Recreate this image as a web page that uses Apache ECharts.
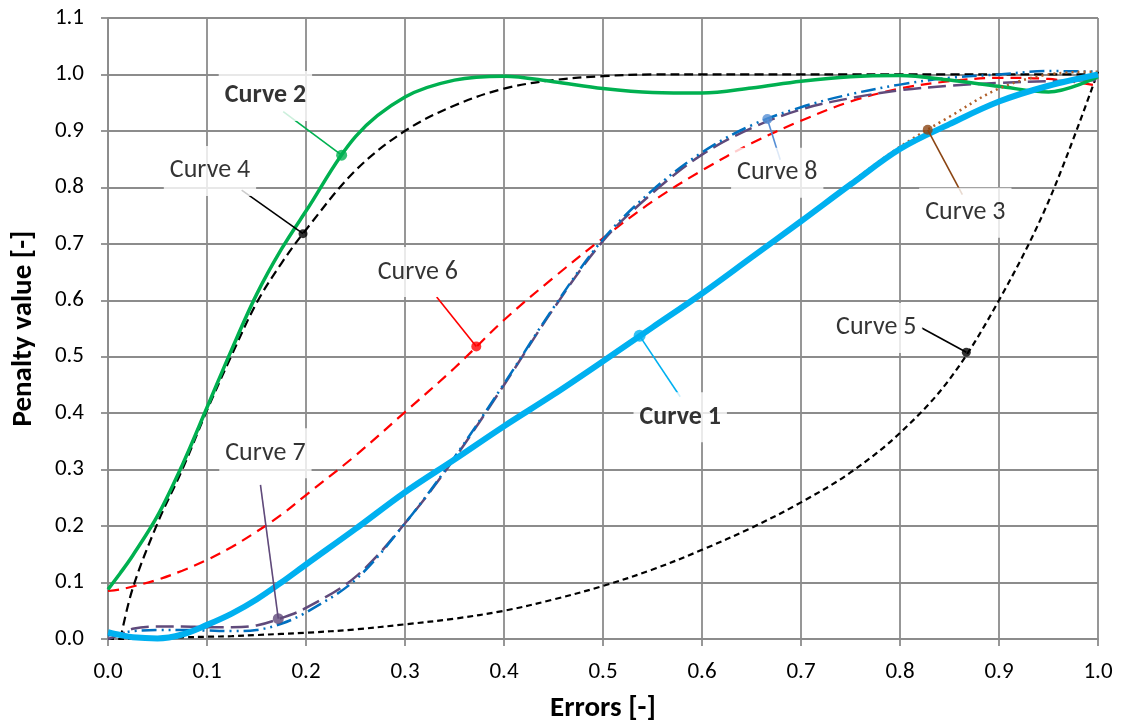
<!DOCTYPE html>
<html>
<head>
<meta charset="utf-8">
<script src="https://cdn.jsdelivr.net/npm/echarts@6/dist/echarts.min.js"></script>
<style>html,body{margin:0;padding:0;background:#fff}#c{width:1123px;height:726px}</style>
</head>
<body>
<div id="c"></div>
<script>
// shared x grid
const X = [0, 0.0125, 0.025, 0.05, 0.075, 0.1, 0.125, 0.15, 0.175, 0.2, 0.25, 0.3, 0.35, 0.4, 0.45, 0.5, 0.55, 0.6, 0.65, 0.7, 0.75, 0.8, 0.85, 0.9, 0.95, 1.0];
const curve1 = [0.012, 0.007, 0.003, 0.001, 0.008, 0.025, 0.045, 0.07, 0.1, 0.132, 0.195, 0.26, 0.318, 0.377, 0.433, 0.492, 0.552, 0.612, 0.676, 0.74, 0.805, 0.868, 0.912, 0.952, 0.98, 1.0];
const curve2 = [0.088, 0.117, 0.148, 0.218, 0.308, 0.41, 0.513, 0.61, 0.69, 0.758, 0.89, 0.96, 0.99, 0.997, 0.987, 0.975, 0.968, 0.967, 0.976, 0.988, 0.996, 0.998, 0.99, 0.979, 0.969, 0.996];
const curve3 = [0.012, 0.007, 0.003, 0.001, 0.008, 0.025, 0.045, 0.07, 0.1, 0.132, 0.195, 0.26, 0.318, 0.377, 0.433, 0.492, 0.552, 0.612, 0.676, 0.74, 0.808, 0.872, 0.925, 0.975, 1.0, 1.005];
const curve4 = [null, 0.0, 0.09, 0.205, 0.3, 0.405, 0.503, 0.595, 0.665, 0.725, 0.83, 0.9, 0.945, 0.975, 0.99, 0.997, 1.0, 1.0, 1.0, 1.0, 1.0, 1.0, 1.0, 1.0, 1.0, 1.0];
const curve5 = [0.0, 0.0, 0.001, 0.002, 0.003, 0.004, 0.005, 0.007, 0.009, 0.011, 0.017, 0.026, 0.036, 0.05, 0.07, 0.094, 0.123, 0.158, 0.197, 0.242, 0.295, 0.365, 0.46, 0.6, 0.775, 1.005];
const curve6 = [0.085, 0.088, 0.093, 0.105, 0.121, 0.14, 0.163, 0.19, 0.22, 0.255, 0.325, 0.402, 0.48, 0.565, 0.64, 0.71, 0.775, 0.83, 0.878, 0.918, 0.952, 0.975, 0.988, 0.994, 0.992, 0.98];
const curve7 = [0.0, 0.008, 0.018, 0.022, 0.022, 0.021, 0.021, 0.024, 0.037, 0.055, 0.11, 0.205, 0.32, 0.45, 0.585, 0.705, 0.79, 0.858, 0.905, 0.938, 0.958, 0.972, 0.98, 0.985, 0.988, 0.99];
const curve8 = [0.006, 0.01, 0.014, 0.016, 0.016, 0.015, 0.014, 0.016, 0.027, 0.047, 0.105, 0.205, 0.322, 0.452, 0.587, 0.708, 0.795, 0.862, 0.91, 0.942, 0.965, 0.982, 0.994, 1.0, 1.006, 1.005];

// annotations
const annNames = ['Curve 1', 'Curve 2', 'Curve 3', 'Curve 4', 'Curve 5', 'Curve 6', 'Curve 7', 'Curve 8'];
const annMarkers = [[0.537, 0.537], [0.236, 0.857], [0.828, 0.902], [0.197, 0.718], [0.867, 0.508], [0.372, 0.518], [0.172, 0.036], [0.666, 0.921]];
const annLineEnds = [[0.578, 0.429], [0.177, 0.934], [0.863, 0.787], [0.135, 0.795], [0.822, 0.551], [0.332, 0.606], [0.154, 0.273], [0.679, 0.849]];
const annTextPos = [[0.578, 0.393], [0.159, 0.962], [0.866, 0.755], [0.103, 0.829], [0.776, 0.551], [0.313, 0.650], [0.159, 0.329], [0.676, 0.826]];
const annBold = [true, true, false, false, false, false, false, false];

const FONT = 'Carlito, Lato, "Liberation Sans", sans-serif';

const styles = {
  c1: {color: '#00B0F0', width: 6, type: 'solid'},
  c2: {color: '#00B050', width: 3.5, type: 'solid'},
  c3: {color: '#B0602A', width: 2.5, type: [2, 4]},
  c4: {color: '#000000', width: 2.2, type: [9, 5]},
  c5: {color: '#000000', width: 2.2, type: [6, 4]},
  c6: {color: '#FF0000', width: 2.2, type: [11, 7]},
  c7: {color: '#604A7B', width: 2.5, type: [18, 7]},
  c8: {color: '#0070C0', width: 2.5, type: [15, 5, 2, 5, 2, 5]}
};
const markerColors = ['#00B0F0', '#00B050', '#8B4513', '#000000', '#000000', '#FF0000', '#604A7B', '#558ED5'];
const markerSizes = [12, 11, 10, 9, 9, 10, 11, 10];

function mk(ys) {
  const out = [];
  X.forEach((x, i) => { if (ys[i] != null) out.push([x, ys[i]]); });
  return out;
}
function lineSeries(name, ys, st, z) {
  return {
    name, type: 'line', data: mk(ys), showSymbol: false, smooth: 0.35, z,
    lineStyle: {color: st.color, width: st.width, type: st.type, cap: 'butt'},
    emphasis: {disabled: true}, silent: true
  };
}

const series = [
  lineSeries('Curve 5', curve5, styles.c5, 2),
  lineSeries('Curve 4', curve4, styles.c4, 2),
  lineSeries('Curve 6', curve6, styles.c6, 2),
  lineSeries('Curve 7', curve7, styles.c7, 2),
  lineSeries('Curve 8', curve8, styles.c8, 2),
  lineSeries('Curve 2', curve2, styles.c2, 3),
  lineSeries('Curve 3', curve3, styles.c3, 3),
  lineSeries('Curve 1', curve1, styles.c1, 4)
];

// leader lines + markers
annNames.forEach((n, i) => {
  series.push({
    type: 'scatter', z: 6, silent: true,
    data: [annMarkers[i]], symbol: 'circle', symbolSize: markerSizes[i],
    itemStyle: {color: markerColors[i]},
    markLine: {
      silent: true, symbol: 'none', animation: false,
      label: {show: false},
      lineStyle: {color: markerColors[i], width: 1.6, type: 'solid'},
      data: [[{coord: annLineEnds[i]}, {coord: annMarkers[i]}]]
    }
  });
});
// text labels with white box
annNames.forEach((n, i) => {
  series.push({
    type: 'scatter', z: 5, silent: true,
    data: [annTextPos[i]], symbolSize: 0,
    label: {
      show: true, position: 'inside', formatter: n,
      fontFamily: FONT, fontSize: 26, color: '#000',
      fontWeight: annBold[i] ? 'bold' : 'normal',
      backgroundColor: '#ffffff', padding: [12, 6]
    }
  });
});

const chart = echarts.init(document.getElementById('c'), null, {renderer: 'canvas'});
chart.setOption({
  animation: false,
  backgroundColor: '#ffffff',
  grid: {left: 108, right: 25, top: 18, bottom: 87, containLabel: false, outerBoundsMode: 'none'},
  xAxis: {
    type: 'value', min: 0, max: 1, interval: 0.1,
    name: 'Errors [-]', nameLocation: 'middle', nameGap: 55,
    nameTextStyle: {fontFamily: FONT, fontSize: 29, fontWeight: 'bold', color: '#000'},
    axisLine: {show: true, lineStyle: {color: '#8c8c8c', width: 1.8}},
    axisTick: {show: true, length: 7, lineStyle: {color: '#8c8c8c', width: 1.8}},
    axisLabel: {margin: 22, fontFamily: FONT, fontSize: 23, color: '#000', formatter: v => v.toFixed(1)},
    splitLine: {show: true, lineStyle: {color: '#8c8c8c', width: 1.8}}
  },
  yAxis: {
    type: 'value', min: 0, max: 1.1, interval: 0.1,
    name: 'Penalty value [-]', nameLocation: 'middle', nameGap: 70,
    nameTextStyle: {fontFamily: FONT, fontSize: 29, fontWeight: 'bold', color: '#000'},
    axisLine: {show: true, lineStyle: {color: '#8c8c8c', width: 1.8}},
    axisTick: {show: true, length: 7, lineStyle: {color: '#8c8c8c', width: 1.8}},
    axisLabel: {margin: 24, fontFamily: FONT, fontSize: 23, color: '#000', formatter: v => v.toFixed(1)},
    splitLine: {show: true, lineStyle: {color: '#8c8c8c', width: 1.8}}
  },
  series
});
</script>
</body>
</html>
